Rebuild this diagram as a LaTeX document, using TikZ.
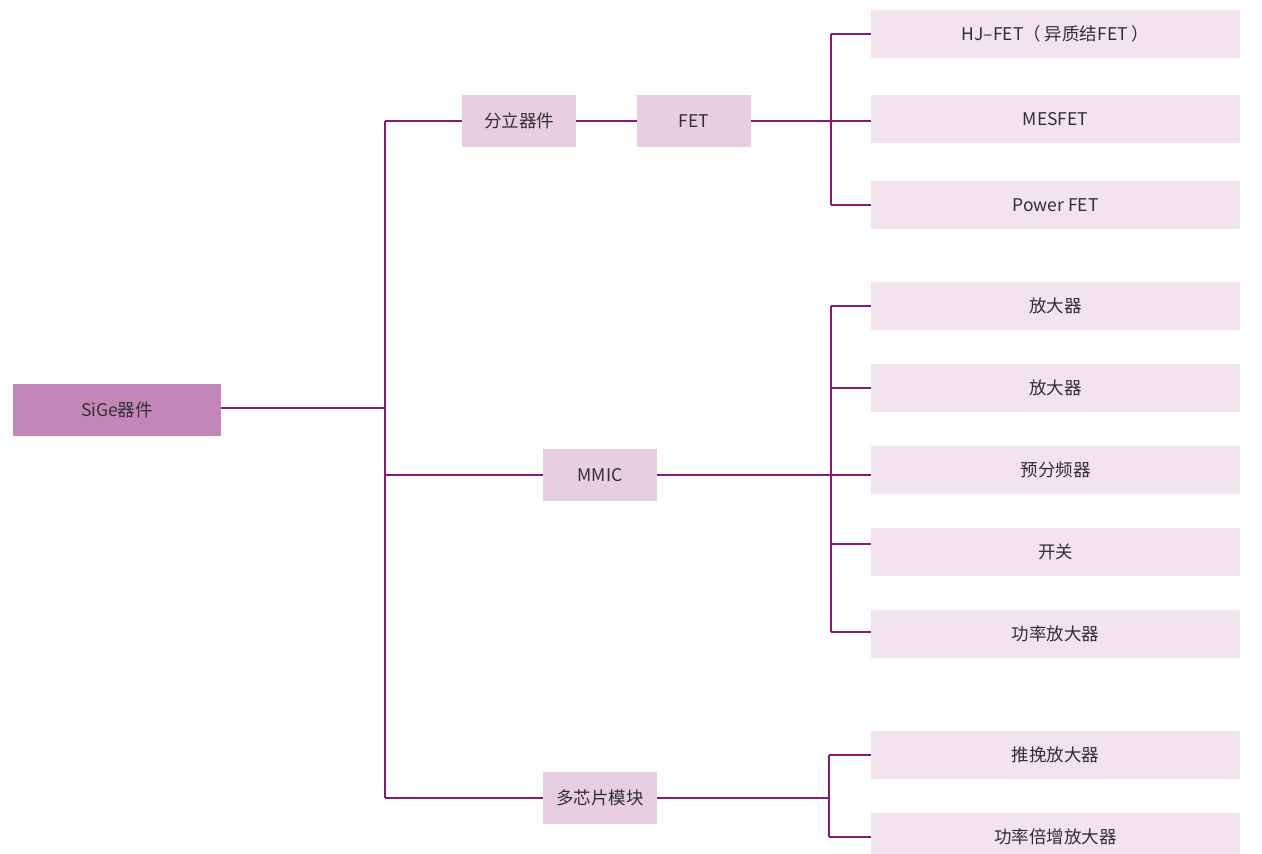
\documentclass[tikz,border=0pt]{standalone}
\usepackage{fontspec}
\setmainfont{Noto Sans CJK SC}
\definecolor{rootfill}{HTML}{C486B9}
\definecolor{midfill}{HTML}{E8CEE3}
\definecolor{leaffill}{HTML}{F3E3EF}
\definecolor{linkc}{HTML}{861A6E}
\definecolor{txt}{HTML}{303030}
\begin{document}
\begin{tikzpicture}[x=1pt,y=-1pt,
  every node/.style={inner sep=0pt,text=txt,font=\fontsize{17.5}{20}\selectfont},
  rootbox/.style={fill=rootfill,minimum width=208pt,minimum height=52pt},
  midbox/.style={fill=midfill,minimum width=114pt,minimum height=52pt},
  leafbox/.style={fill=leaffill,minimum width=369pt,minimum height=48pt},
  link/.style={draw=linkc,line width=2.5pt}]
\useasboundingbox (0,0) rectangle (1262,854);
\node[rootbox] (root) at (117,410) {SiGe器件};
\node[midbox] (disc) at (519,121) {分立器件};
\node[midbox] (fet) at (694,121) {FET};
\node[midbox] (mmic) at (600,475) {MMIC};
\node[midbox] (multi) at (600,798) {多芯片模块};
\node[leafbox] (hj) at (1055.5,34) {HJ–FET（ 异质结FET ）};
\node[leafbox] (mes) at (1055.5,119) {MESFET};
\node[leafbox] (pfet) at (1055.5,205) {Power FET};
\node[leafbox] (amp1) at (1055.5,306) {放大器};
\node[leafbox] (amp2) at (1055.5,388) {放大器};
\node[leafbox] (pre) at (1055.5,470) {预分频器};
\node[leafbox] (sw) at (1055.5,552) {开关};
\node[leafbox] (pa) at (1055.5,634) {功率放大器};
\node[leafbox] (pp) at (1055.5,755) {推挽放大器};
\node[leafbox] (pm) at (1055.5,837) {功率倍增放大器};
\coordinate (t1) at (385,408);
\coordinate (f1) at (831,121);
\coordinate (f2) at (831,475);
\coordinate (f3) at (829,798);
% trunk
\draw[link] (root.east |- t1) -- (t1);
\draw[link] (385,121) -- (385,798);
\draw[link] (385,121) -- (disc.west);
\draw[link] (385,475) -- (mmic.west);
\draw[link] (385,798) -- (multi.west);
% FET branch
\draw[link] (disc.east) -- (fet.west);
\draw[link] (fet.east) -- (f1) -- (mes.west |- f1);
\draw[link] (f1 |- hj.west) -- (f1 |- pfet.west);
\draw[link] (f1 |- hj.west) -- (hj.west);
\draw[link] (f1 |- pfet.west) -- (pfet.west);
% MMIC branch
\draw[link] (mmic.east) -- (f2) -- (pre.west |- f2);
\draw[link] (f2 |- amp1.west) -- (831,632);
\draw[link] (f2 |- amp1.west) -- (amp1.west);
\draw[link] (f2 |- amp2.west) -- (amp2.west);
\draw[link] (831,544) -- (sw.west |- 831,544);
\draw[link] (831,632) -- (pa.west |- 831,632);
% multi-chip branch
\draw[link] (multi.east) -- (f3);
\draw[link] (f3 |- pp.west) -- (f3 |- pm.west);
\draw[link] (f3 |- pp.west) -- (pp.west);
\draw[link] (f3 |- pm.west) -- (pm.west);
\end{tikzpicture}
\end{document}
